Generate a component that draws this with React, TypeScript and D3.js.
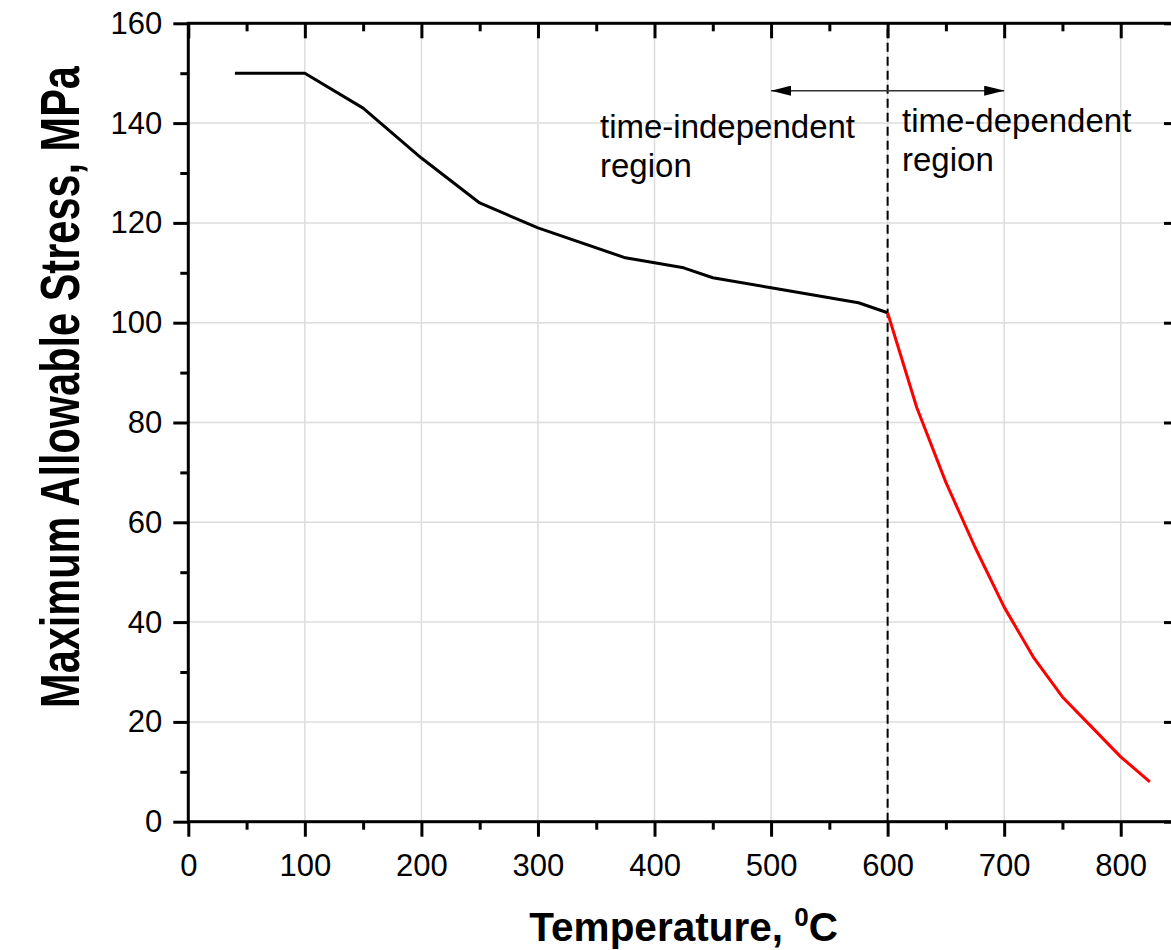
import React, { useEffect, useRef } from 'react';
import * as d3 from 'd3';

// temperature (C) vs maximum allowable stress (MPa)
const indepTemps = [40, 100, 150, 200, 250, 300, 375, 425, 450, 500, 525, 550, 575, 600];
const indepStress = [150, 150, 143, 133, 124, 119, 113, 111, 109, 107, 106, 105, 104, 102];
const depTemps = [600, 625, 650, 675, 700, 725, 750, 775, 800, 825];
const depStress = [102, 83, 68, 55, 43, 33, 25, 19, 13, 8];

const xTicks = [0, 100, 200, 300, 400, 500, 600, 700, 800];
const yTicks = [0, 20, 40, 60, 80, 100, 120, 140, 160];

const boundaryTemp = 600;
const arrowFrom = 500;
const arrowTo = 700;
const arrowStress = 146.5;

const App = () => {
  const ref = useRef<SVGSVGElement>(null);

  useEffect(() => {
    const width = 1171,
      height = 950;
    const margin = { top: 23.3, left: 188.3 };
    const innerW = 990.7,
      innerH = 798.4;
    const font = 'Liberation Sans, Arial, sans-serif';

    const svg = d3.select(ref.current).attr('width', width).attr('height', height);
    svg.selectAll('*').remove();

    const x = d3.scaleLinear().domain([0, 850]).range([0, innerW]);
    const y = d3.scaleLinear().domain([0, 160]).range([innerH, 0]);

    const defs = svg.append('defs');
    defs
      .append('marker')
      .attr('id', 'head')
      .attr('viewBox', '0 0 20 10')
      .attr('refX', 20)
      .attr('refY', 5)
      .attr('markerWidth', 20)
      .attr('markerHeight', 10)
      .attr('markerUnits', 'userSpaceOnUse')
      .attr('orient', 'auto-start-reverse')
      .append('path')
      .attr('d', 'M0,0 L20,5 L0,10 Z')
      .attr('fill', '#000');

    const g = svg.append('g').attr('transform', `translate(${margin.left},${margin.top})`);

    // grid
    g.append('g')
      .selectAll('line')
      .data(xTicks.filter((d) => d > 0))
      .enter()
      .append('line')
      .attr('x1', (d) => x(d))
      .attr('x2', (d) => x(d))
      .attr('y1', 0)
      .attr('y2', innerH)
      .attr('stroke', '#dcdcdc')
      .attr('stroke-width', 1.5);
    g.append('g')
      .selectAll('line')
      .data(yTicks.filter((d) => d > 0 && d < 160))
      .enter()
      .append('line')
      .attr('x1', 0)
      .attr('x2', innerW)
      .attr('y1', (d) => y(d))
      .attr('y2', (d) => y(d))
      .attr('stroke', '#dcdcdc')
      .attr('stroke-width', 1.5);

    const xMinor = d3.range(50, 850, 100);
    const yMinor = d3.range(10, 160, 20);

    const styleAxis = (sel: any) => {
      sel.select('.domain').remove();
      sel.selectAll('line').attr('stroke', '#000').attr('stroke-width', 3);
      sel.selectAll('text').attr('font-family', font).attr('font-size', 31).attr('fill', '#000');
    };

    // bottom
    g.append('g')
      .attr('transform', `translate(0,${innerH})`)
      .call(d3.axisBottom(x).tickValues(xTicks).tickSize(15).tickPadding(17).tickFormat(d3.format('d')))
      .call(styleAxis);
    g.append('g')
      .attr('transform', `translate(0,${innerH})`)
      .call(d3.axisBottom(x).tickValues(xMinor).tickSize(8).tickFormat(() => ''))
      .call(styleAxis);
    // top
    g.append('g')
      .call(d3.axisBottom(x).tickValues(xTicks).tickSize(15).tickFormat(() => ''))
      .call(styleAxis);
    g.append('g')
      .call(d3.axisBottom(x).tickValues(xMinor).tickSize(8).tickFormat(() => ''))
      .call(styleAxis);
    // left
    g.append('g')
      .call(d3.axisLeft(y).tickValues(yTicks).tickSize(15).tickPadding(11).tickFormat(d3.format('d')))
      .call(styleAxis);
    g.append('g')
      .call(d3.axisLeft(y).tickValues(yMinor).tickSize(8).tickFormat(() => ''))
      .call(styleAxis);
    // right
    g.append('g')
      .attr('transform', `translate(${innerW},0)`)
      .call(d3.axisLeft(y).tickValues(yTicks).tickSize(15).tickFormat(() => ''))
      .call(styleAxis);
    g.append('g')
      .attr('transform', `translate(${innerW},0)`)
      .call(d3.axisLeft(y).tickValues(yMinor).tickSize(8).tickFormat(() => ''))
      .call(styleAxis);

    // frame
    g.append('rect')
      .attr('x', 0)
      .attr('y', 0)
      .attr('width', innerW)
      .attr('height', innerH)
      .attr('fill', 'none')
      .attr('stroke', '#000')
      .attr('stroke-width', 3);

    // boundary line
    g.append('line')
      .attr('x1', x(boundaryTemp))
      .attr('x2', x(boundaryTemp))
      .attr('y1', y(0))
      .attr('y2', y(160))
      .attr('stroke', '#000')
      .attr('stroke-width', 2)
      .attr('stroke-dasharray', '9,5');

    const line = d3
      .line<[number, number]>()
      .x((d) => x(d[0]))
      .y((d) => y(d[1]));

    g.append('path')
      .datum(d3.zip(indepTemps, indepStress) as [number, number][])
      .attr('d', line)
      .attr('fill', 'none')
      .attr('stroke', '#000')
      .attr('stroke-width', 3)
      .attr('stroke-linejoin', 'round');

    g.append('path')
      .datum(d3.zip(depTemps, depStress) as [number, number][])
      .attr('d', line)
      .attr('fill', 'none')
      .attr('stroke', '#ff0000')
      .attr('stroke-width', 3)
      .attr('stroke-linejoin', 'round');

    // arrow
    g.append('line')
      .attr('x1', x(arrowFrom))
      .attr('x2', x(arrowTo))
      .attr('y1', y(arrowStress))
      .attr('y2', y(arrowStress))
      .attr('stroke', '#333')
      .attr('stroke-width', 1.5)
      .attr('marker-start', 'url(#head)')
      .attr('marker-end', 'url(#head)');

    const addLabel = (lines: string[], px: number, py: number) => {
      const t = svg
        .append('text')
        .attr('font-family', font)
        .attr('font-size', 33)
        .attr('fill', '#000');
      lines.forEach((s, i) => {
        t.append('tspan').attr('x', px).attr('y', py + i * 39).text(s);
      });
    };
    addLabel(['time-independent', 'region'], 600, 138);
    addLabel(['time-dependent', 'region'], 902, 132);

    // axis titles
    const xt = svg
      .append('text')
      .attr('x', margin.left + innerW / 2)
      .attr('y', 941)
      .attr('text-anchor', 'middle')
      .attr('font-family', font)
      .attr('font-weight', 'bold')
      .attr('font-size', 40.5)
      .attr('fill', '#000');
    xt.append('tspan').text('Temperature, ');
    xt.append('tspan').attr('font-size', 26).attr('dy', -15).text('0');
    xt.append('tspan').attr('dy', 15).text('C');

    svg
      .append('text')
      .attr('transform', `translate(79,387) scale(1.35,1) rotate(-90)`)
      .attr('text-anchor', 'middle')
      .attr('font-family', font)
      .attr('font-weight', 'bold')
      .attr('font-size', 41.5)
      .attr('fill', '#000')
      .text('Maximum Allowable Stress, MPa');
  }, []);

  return <svg ref={ref} style={{ position: 'absolute', left: 0, top: 0 }} />;
};

export default App;
